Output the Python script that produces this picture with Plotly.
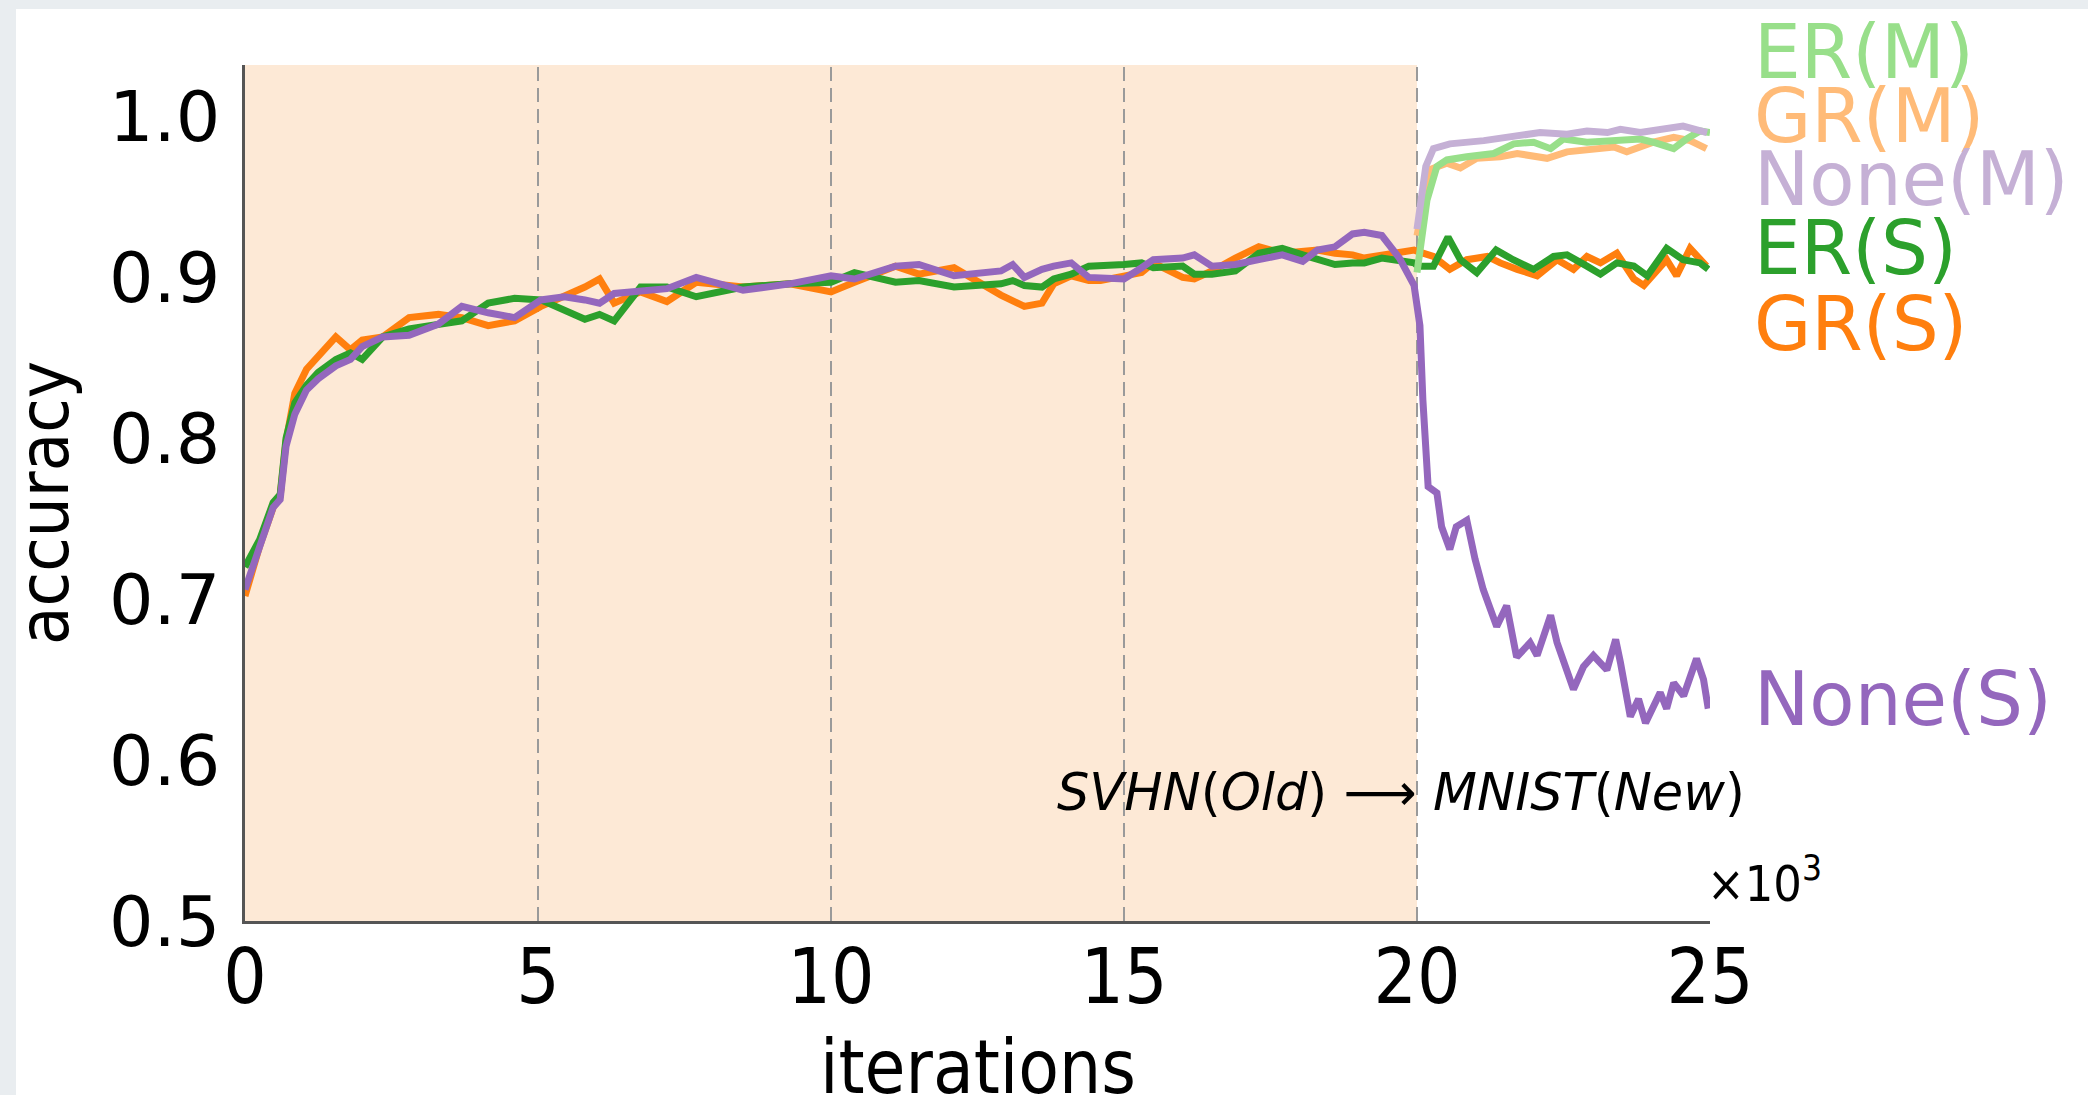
import plotly.graph_objects as go

# ---------------- data (iterations in thousands) ----------------
x_old = [0, 0.25, 0.48, 0.6, 0.7, 0.85, 1.05, 1.25, 1.55, 1.8, 2.0, 2.35, 2.8, 3.3, 3.7,
         4.15, 4.6, 5.05, 5.45, 5.8, 6.05, 6.3, 6.75, 7.2, 7.7, 8.5, 9.3, 10.0, 10.4, 11.1,
         11.5, 12.1, 12.9, 13.1, 13.3, 13.6, 13.8, 14.1, 14.4, 14.6, 15.0, 15.3, 15.5, 16.0,
         16.2, 16.5, 16.9, 17.3, 17.7, 18.05, 18.3, 18.6, 18.9, 19.1, 19.4, 19.7, 19.95]

er_s_old = [0.720, 0.737, 0.760, 0.765, 0.800, 0.822, 0.833, 0.841, 0.849, 0.853, 0.849, 0.863,
            0.868, 0.871, 0.873, 0.884, 0.887, 0.886, 0.880, 0.874, 0.877, 0.873, 0.894, 0.894,
            0.888, 0.894, 0.896, 0.897, 0.903, 0.897, 0.898, 0.894, 0.896, 0.898, 0.895, 0.894,
            0.899, 0.902, 0.907, 0.907, 0.908, 0.909, 0.906, 0.907, 0.902, 0.902, 0.904, 0.915,
            0.918, 0.914, 0.911, 0.908, 0.909, 0.909, 0.912, 0.910, 0.909]
gr_s_old = [0.702, 0.733, 0.757, 0.764, 0.798, 0.828, 0.843, 0.851, 0.863, 0.855, 0.861, 0.863,
            0.875, 0.877, 0.875, 0.870, 0.873, 0.882, 0.888, 0.894, 0.899, 0.884, 0.891, 0.885,
            0.897, 0.894, 0.896, 0.891, 0.897, 0.907, 0.902, 0.906, 0.889, 0.886, 0.882, 0.884,
            0.896, 0.901, 0.898, 0.898, 0.901, 0.903, 0.909, 0.900, 0.899, 0.904, 0.912, 0.919,
            0.915, 0.916, 0.917, 0.915, 0.914, 0.912, 0.914, 0.915, 0.917]
none_s_old = [0.706, 0.733, 0.757, 0.762, 0.795, 0.815, 0.830, 0.837, 0.845, 0.849, 0.857, 0.863,
              0.864, 0.871, 0.882, 0.878, 0.875, 0.886, 0.888, 0.886, 0.884, 0.890, 0.891, 0.893,
              0.900, 0.892, 0.896, 0.901, 0.899, 0.907, 0.908, 0.901, 0.904, 0.908, 0.900, 0.905,
              0.907, 0.909, 0.900, 0.900, 0.899, 0.906, 0.911, 0.912, 0.914, 0.907, 0.908, 0.911,
              0.914, 0.910, 0.917, 0.919, 0.927, 0.928, 0.926, 0.912, 0.895]

x_er_s_new = [20.02, 20.28, 20.53, 20.74, 21.02, 21.35, 21.64, 21.99, 22.33, 22.56, 22.9, 23.13,
              23.41, 23.7, 23.93, 24.26, 24.54, 24.83, 24.97]
er_s_new = [0.907, 0.907, 0.925, 0.911, 0.903, 0.917, 0.911, 0.905, 0.913, 0.914, 0.907, 0.902,
            0.909, 0.907, 0.901, 0.918, 0.911, 0.909, 0.905]
x_gr_s_new = [20.02, 20.28, 20.56, 20.85, 21.2, 21.42, 21.71, 22.05, 22.39, 22.67, 22.9, 23.13,
              23.41, 23.7, 23.87, 24.26, 24.43, 24.66, 24.94]
gr_s_new = [0.916, 0.913, 0.905, 0.911, 0.913, 0.909, 0.905, 0.901, 0.911, 0.905, 0.913, 0.909,
            0.915, 0.899, 0.895, 0.911, 0.901, 0.918, 0.907]
x_none_s_new = [20.05, 20.1, 20.19, 20.34, 20.42, 20.56, 20.67, 20.85, 20.99, 21.13, 21.36, 21.53,
                21.70, 21.93, 22.05, 22.28, 22.39, 22.67, 22.84, 23.01, 23.24, 23.39, 23.47, 23.64,
                23.78, 23.90, 24.15, 24.26, 24.38, 24.55, 24.77, 24.89, 24.97]
none_s_new = [0.870, 0.824, 0.770, 0.766, 0.745, 0.731, 0.745, 0.749, 0.725, 0.706, 0.683, 0.696,
              0.664, 0.673, 0.665, 0.690, 0.673, 0.644, 0.658, 0.665, 0.656, 0.675, 0.661, 0.627,
              0.638, 0.623, 0.642, 0.632, 0.648, 0.640, 0.663, 0.650, 0.632]

x_none_m = [20.0, 20.08, 20.15, 20.28, 20.56, 21.14, 21.71, 22.1, 22.56, 22.9, 23.25, 23.47,
            23.81, 24.26, 24.54, 24.95]
none_m = [0.930, 0.955, 0.969, 0.980, 0.983, 0.985, 0.988, 0.990, 0.989, 0.991, 0.990, 0.992,
          0.990, 0.992, 0.994, 0.990]
x_er_m = [20.0, 20.17, 20.34, 20.51, 20.85, 21.31, 21.65, 21.99, 22.28, 22.5, 22.9, 23.41, 23.81,
          24.03, 24.38, 24.6, 24.83, 25.0]
er_m = [0.903, 0.948, 0.969, 0.973, 0.975, 0.977, 0.983, 0.984, 0.980, 0.986, 0.984, 0.985, 0.986,
        0.984, 0.980, 0.986, 0.991, 0.990]
x_gr_m = [20.0, 20.22, 20.51, 20.74, 21.02, 21.42, 21.71, 22.22, 22.56, 23.13, 23.36, 23.58,
          24.03, 24.38, 24.66, 24.94]
gr_m = [0.926, 0.967, 0.971, 0.968, 0.974, 0.975, 0.977, 0.974, 0.978, 0.980, 0.981, 0.978,
        0.984, 0.987, 0.985, 0.980]

series_names = ["GR(S)", "ER(S)", "None(S)", "GR(M)", "ER(M)", "None(M)"]
label_y = {"ER(M)": 1.040, "GR(M)": 1.000, "None(M)": 0.961, "ER(S)": 0.918,
           "GR(S)": 0.871, "None(S)": 0.638}
colors = {"ER(S)": "#2ca02c", "GR(S)": "#ff7f0e", "None(S)": "#9467bd",
          "ER(M)": "#98df8a", "GR(M)": "#ffbb78", "None(M)": "#c5b0d5"}

x_ticks = [0, 5, 10, 15, 20, 25]
y_ticks = [0.5, 0.6, 0.7, 0.8, 0.9, 1.0]
x_range = [0, 25]
y_range = [0.5, 1.032]
task_boundaries = [5, 10, 15, 20]
old_task_end = 20
x_title = "iterations"
y_title = "accuracy"

# ---------------- figure ----------------
xy = {
    "GR(S)": (x_old + x_gr_s_new, gr_s_old + gr_s_new),
    "ER(S)": (x_old + x_er_s_new, er_s_old + er_s_new),
    "None(S)": (x_old + x_none_s_new, none_s_old + none_s_new),
    "GR(M)": (x_gr_m, gr_m),
    "ER(M)": (x_er_m, er_m),
    "None(M)": (x_none_m, none_m),
}

fig = go.Figure()
for name in series_names:
    xs, ys = xy[name]
    fig.add_trace(go.Scatter(x=xs, y=ys, mode="lines", name=name,
                             line=dict(color=colors[name], width=7), showlegend=False))

W, H = 2088, 1095
L, R, T, B = 245, 378, 65, 174
pw, ph = W - L - R, H - T - B


def ypaper(v):
    return (v - y_range[0]) / (y_range[1] - y_range[0])


shapes = []
# white card over grey page
shapes.append(dict(type="rect", xref="paper", yref="paper",
                   x0=(16 - L) / pw, x1=(W + 20 - L) / pw,
                   y0=-(B + 20) / ph, y1=(H - B - 9) / ph,
                   fillcolor="white", line=dict(width=0), layer="below"))
# old-task shaded region
shapes.append(dict(type="rect", xref="x", yref="paper", x0=0, x1=old_task_end, y0=0, y1=1,
                   fillcolor="#fde9d6", line=dict(width=0), layer="below"))
for b in task_boundaries:
    shapes.append(dict(type="line", xref="x", yref="paper", x0=b, x1=b, y0=0, y1=1,
                       line=dict(color="#9a9a9a", width=2, dash="14px,7px"), layer="below"))

annotations = []
for name, yv in label_y.items():
    annotations.append(dict(x=(1752 - L) / pw, y=ypaper(yv), xref="paper", yref="paper",
                            text=name, showarrow=False, xanchor="left", yanchor="middle",
                            font=dict(family="DejaVu Sans", size=74, color=colors[name])))
annotations.append(dict(x=old_task_end, y=0.580, xref="x", yref="y",
                        text="<i>SVHN</i>(<i>Old</i>) ⟶", showarrow=False,
                        xanchor="right", yanchor="middle", xshift=2,
                        font=dict(family="DejaVu Sans", size=51, color="black")))
annotations.append(dict(x=old_task_end, y=0.580, xref="x", yref="y",
                        text="<i>MNIST</i>(<i>New</i>)", showarrow=False,
                        xanchor="left", yanchor="middle", xshift=14,
                        font=dict(family="DejaVu Sans", size=51, color="black")))
annotations.append(dict(x=(1764 - L) / pw, y=ypaper(0.525), xref="paper", yref="paper",
                        text="×10<sup>3</sup>", showarrow=False,
                        xanchor="center", yanchor="middle",
                        font=dict(family="DejaVu Sans Condensed", size=50, color="black")))
# axis titles
annotations.append(dict(x=0.5, y=(T + ph - 1067) / ph, xref="paper", yref="paper",
                        text=x_title, showarrow=False, xanchor="center", yanchor="middle",
                        font=dict(family="DejaVu Sans Condensed", size=74, color="black")))
annotations.append(dict(x=(44 - L) / pw, y=(T + ph - 503) / ph, xref="paper", yref="paper",
                        text=y_title, showarrow=False, xanchor="center", yanchor="middle",
                        textangle=-90,
                        font=dict(family="DejaVu Sans Condensed", size=70, color="black")))

fig.update_layout(
    width=W, height=H,
    margin=dict(l=L, r=R, t=T, b=B, pad=0, autoexpand=False),
    paper_bgcolor="#e9edf0",
    plot_bgcolor="rgba(0,0,0,0)",
    shapes=shapes,
    annotations=annotations,
    xaxis=dict(range=x_range, tickvals=x_ticks, ticktext=[str(v) for v in x_ticks],
               showgrid=False, zeroline=False, showline=True, linecolor="#555555", linewidth=2.5,
               ticks="", ticklabelstandoff=-12, automargin=False,
               tickfont=dict(family="DejaVu Sans Condensed", size=76, color="black")),
    yaxis=dict(range=y_range, tickvals=y_ticks, ticktext=[f"{v:.1f}" for v in y_ticks],
               showgrid=False, zeroline=False, showline=True, linecolor="#555555", linewidth=2.5,
               ticks="", ticklabelstandoff=8, automargin=False,
               tickfont=dict(family="DejaVu Sans", size=70, color="black")),
)

fig.write_html("out.html",
               config={"displayModeBar": False},
               post_script="document.body.style.margin='0';"
                           "document.body.style.overflow='hidden';")
